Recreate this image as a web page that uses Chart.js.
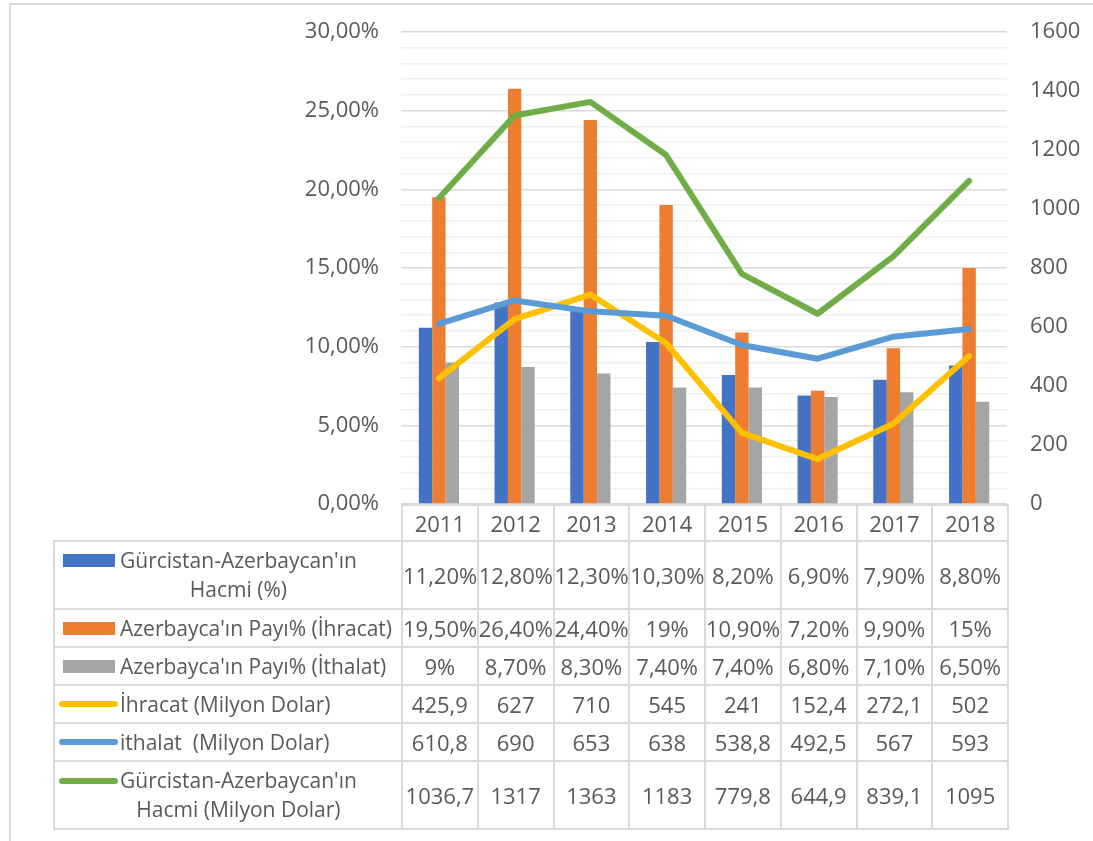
<!DOCTYPE html>
<html>
<head>
<meta charset="utf-8">
<script src="https://cdn.jsdelivr.net/npm/chart.js@4.4.1/dist/chart.umd.min.js"></script>
<style>
  html, body { margin: 0; padding: 0; background: #fff; }
  #wrap { position: relative; width: 1093px; height: 841px; overflow: hidden; font-family: "Open Sans", sans-serif; color: #595959; }
  #frame { position: absolute; left: 9px; top: 3px; width: 1200px; height: 900px; border-left: 2px solid #d9d9d9; border-top: 2px solid #d9d9d9; }
  #chart { position: absolute; left: 0; top: 0; }
  #dataTable { position: absolute; border-collapse: collapse; table-layout: fixed; font-size: 22px; color: #595959; }
  #dataTable td { border: 2px solid #d9d9d9; padding: 0; text-align: center; vertical-align: middle; white-space: nowrap; line-height: 29px; }
  #dataTable td.blank { border-top: none; border-left: none; }
  .legendCell { display: flex; align-items: flex-start; justify-content: flex-start; padding-left: 4px; font-size: 21px; }
  .keyBox { width: 59px; height: 29px; display: flex; align-items: center; justify-content: center; flex: none; }
  .keyText { white-space: pre; text-align: center; margin-left: 2px; }
</style>
</head>
<body>
<div id="wrap">
  <div id="frame"></div>
  <canvas id="chart" width="1093" height="841"></canvas>
  <table id="dataTable"></table>
</div>
<script>
const years = ['2011', '2012', '2013', '2014', '2015', '2016', '2017', '2018'];

// percent series (left axis)
const hacmiPct   = [11.2, 12.8, 12.3, 10.3, 8.2, 6.9, 7.9, 8.8];
const ihracatPct = [19.5, 26.4, 24.4, 19, 10.9, 7.2, 9.9, 15];
const ithalatPct = [9, 8.7, 8.3, 7.4, 7.4, 6.8, 7.1, 6.5];

// million dollar series (right axis)
const ihracatMln = [425.9, 627, 710, 545, 241, 152.4, 272.1, 502];
const ithalatMln = [610.8, 690, 653, 638, 538.8, 492.5, 567, 593];
const hacmiMln   = [1036.7, 1317, 1363, 1183, 779.8, 644.9, 839.1, 1095];

const seriesNames = [
  "Gürcistan-Azerbaycan'ın\nHacmi (%)",
  "Azerbayca'ın Payı% (İhracat)",
  "Azerbayca'ın Payı% (İthalat)",
  "İhracat (Milyon Dolar)",
  "ithalat  (Milyon Dolar)",
  "Gürcistan-Azerbaycan'ın\nHacmi (Milyon Dolar)"
];
const seriesColors = ['#4472C4', '#ED7D31', '#A5A5A5', '#FFC000', '#5B9BD5', '#70AD47'];

const textColor = '#595959';
const tickFont = { family: 'Open Sans', size: 22 };

const fmtPct = v => Number.isInteger(v) ? v + '%' : v.toFixed(2).replace('.', ',') + '%';
const fmtNum = v => String(v).replace('.', ',');

const barSet = (i, data) => ({
  type: 'bar', label: seriesNames[i], data: data, yAxisID: 'yPct',
  backgroundColor: seriesColors[i], order: 10 + i,
  categoryPercentage: 0.53, barPercentage: 1.0
});
const lineSet = (i, data, ord) => ({
  type: 'line', label: seriesNames[i], data: data, yAxisID: 'yMln',
  borderColor: seriesColors[i], backgroundColor: seriesColors[i],
  borderWidth: 6, pointRadius: 0, tension: 0,
  borderCapStyle: 'round', borderJoinStyle: 'round', order: ord
});

const fitAxis = w => s => { s.width = w; s.paddingTop = 0; s.paddingBottom = 0; };

const ctx = document.getElementById('chart');
const chart = new Chart(ctx, {
  type: 'bar',
  data: {
    labels: years,
    datasets: [
      barSet(0, hacmiPct),
      barSet(1, ihracatPct),
      barSet(2, ithalatPct),
      lineSet(3, ihracatMln, 3),
      lineSet(4, ithalatMln, 2),
      lineSet(5, hacmiMln, 1)
    ]
  },
  options: {
    responsive: false,
    animation: false,
    layout: { padding: { top: 32, bottom: 337, left: 0, right: 0 } },
    plugins: { legend: { display: false }, tooltip: { enabled: false } },
    scales: {
      x: { display: false },
      yPct: {
        position: 'left', min: 0, max: 30,
        afterFit: fitAxis(401),
        border: { display: false },
        grid: {
          drawTicks: false, lineWidth: 1.5,
          color: c => c.tick && c.tick.value % 5 === 0 ? '#d9d9d9' : '#f0f0f0'
        },
        ticks: {
          stepSize: 1, autoSkip: false, padding: 22, color: textColor, font: tickFont,
          callback: v => v % 5 === 0 ? v.toFixed(2).replace('.', ',') + '%' : ''
        }
      },
      yMln: {
        position: 'right', min: 0, max: 1600,
        afterFit: fitAxis(86),
        border: { display: false },
        grid: { display: false, drawTicks: false },
        ticks: { stepSize: 200, padding: 23, color: textColor, font: tickFont, callback: v => String(v) }
      }
    }
  }
});

// data table under the plot, aligned with the category columns
function buildTable(area) {
  const table = document.getElementById('dataTable');
  const tableLeft = 53;
  const colW = (area.right - area.left) / years.length;
  const rowHeights = [36, 68, 38, 38, 38, 38, 68];
  const rows = [hacmiPct, ihracatPct, ithalatPct, ihracatMln, ithalatMln, hacmiMln];

  table.style.left = tableLeft + 'px';
  table.style.top = (area.bottom) + 'px';
  table.style.width = (area.right - tableLeft) + 'px';

  let html = '<colgroup><col style="width:' + (area.left - tableLeft) + 'px">';
  years.forEach(() => { html += '<col style="width:' + colW + 'px">'; });
  html += '</colgroup>';

  html += '<tr style="height:' + rowHeights[0] + 'px"><td class="blank"></td>';
  years.forEach(y => { html += '<td>' + y + '</td>'; });
  html += '</tr>';

  rows.forEach((vals, i) => {
    let key;
    if (i < 3) key = '<span style="display:block;width:52px;height:13px;background:' + seriesColors[i] + '"></span>';
    else key = '<span style="display:block;width:59px;height:6px;border-radius:3px;background:' + seriesColors[i] + '"></span>';
    html += '<tr style="height:' + rowHeights[i + 1] + 'px"><td><div class="legendCell"><div class="keyBox">' + key +
            '</div><div class="keyText">' + seriesNames[i] + '</div></div></td>';
    vals.forEach(v => { html += '<td>' + (i < 3 ? fmtPct(v) : fmtNum(v)) + '</td>'; });
    html += '</tr>';
  });
  table.innerHTML = html;
}

buildTable(chart.chartArea);
</script>
</body>
</html>
